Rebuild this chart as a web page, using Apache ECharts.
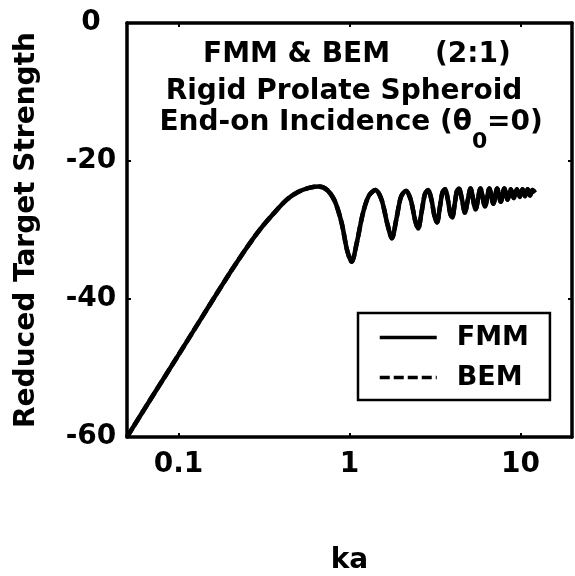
<!DOCTYPE html>
<html>
<head>
<meta charset="utf-8">
<script src="https://cdn.jsdelivr.net/npm/echarts@6/dist/echarts.min.js"></script>
<style>
  html, body { margin: 0; padding: 0; background: #ffffff; }
  #chart { width: 575px; height: 576px; }
</style>
</head>
<body>
<div id="chart"></div>
<script>
// Reduced target strength of a 2:1 rigid prolate spheroid, end-on incidence
const ka = [0.05, 0.07, 0.1, 0.14, 0.2, 0.25, 0.3, 0.36, 0.43, 0.5, 0.58, 0.66, 0.74, 0.82, 0.9, 0.97,
  1.03, 1.1, 1.2, 1.3, 1.42, 1.54, 1.66, 1.77, 1.88, 2.0, 2.14, 2.28, 2.42, 2.52, 2.64, 2.76, 2.88,
  3.02, 3.14, 3.25, 3.38, 3.5, 3.62, 3.76, 3.88, 3.99, 4.12, 4.24, 4.36, 4.55, 4.73, 4.92, 5.1,
  5.46, 5.83, 6.2, 6.57, 6.94, 7.3, 7.67, 8.04, 8.41, 8.78, 9.15, 9.52, 9.89, 10.26, 10.63, 11.0,
  11.37, 11.74, 12.2];
const tsFMM = [-60.0, -54.2, -48.1, -42.3, -36.2, -32.6, -29.9, -27.6, -25.6, -24.5, -23.9, -23.7, -24.2, -25.8, -29.0, -33.0,
  -34.6, -32.0, -27.5, -25.0, -24.2, -25.6, -29.0, -31.2, -28.4, -25.2, -24.3, -25.6, -28.6, -29.8, -27.4, -24.8, -24.2,
  -25.7, -28.0, -28.9, -26.6, -24.5, -24.1, -25.6, -27.6, -28.2, -26.3, -24.4, -24.0, -25.6, -27.5, -25.6, -24.0,
  -27.0, -24.0, -26.6, -24.0, -26.2, -24.0, -25.9, -24.0, -25.6, -24.1, -25.4, -24.1, -25.2, -24.1, -25.1, -24.1,
  -25.0, -24.2, -24.6];
const tsBEM = [-60.0, -54.2, -48.1, -42.3, -36.2, -32.6, -29.9, -27.6, -25.6, -24.5, -23.9, -23.7, -24.2, -25.8, -29.0, -33.0,
  -34.6, -32.0, -27.5, -25.0, -24.2, -25.6, -29.0, -31.2, -28.4, -25.2, -24.3, -25.6, -28.6, -29.8, -27.4, -24.8, -24.2,
  -25.7, -28.0, -28.9, -26.6, -24.5, -24.1, -25.6, -27.6, -28.2, -26.3, -24.4, -24.0, -25.6, -27.5, -25.6, -24.0,
  -27.0, -24.0, -26.6, -24.0, -26.2, -24.0, -25.9, -24.0, -25.6, -24.1, -25.4, -24.1, -25.2, -24.1, -25.1, -24.1,
  -25.0, -24.2, -24.6];
const xTickLabels = [0.1, 1, 10];
const yTickLabels = [-60, -40, -20, 0];

const FONT = '"DejaVu Sans", sans-serif';
const chart = echarts.init(document.getElementById('chart'), null, { renderer: 'canvas' });

const frameLine = { show: true, onZero: false, lineStyle: { color: '#000', width: 3.5 } };
const innerTick = { show: true, inside: true, length: 4, lineStyle: { color: '#000', width: 2 } };

function xLabel(v) {
  const hit = xTickLabels.find(t => Math.abs(Math.log10(v) - Math.log10(t)) < 1e-6);
  return hit === undefined ? '' : String(hit);
}
function yLabel(v) {
  return yTickLabels.indexOf(v) >= 0 ? String(v) : '';
}

const option = {
  backgroundColor: '#ffffff',
  animation: false,
  grid: { left: 127, right: 3, top: 23, bottom: 139, containLabel: false, outerBoundsMode: 'none' },
  xAxis: [
    {
      type: 'log', logBase: 10, min: 0.05, max: 20, splitNumber: 3, position: 'bottom',
      name: 'ka', nameLocation: 'middle', nameGap: 110,
      nameTextStyle: { fontFamily: FONT, fontWeight: 'bold', fontSize: 28, color: '#000' },
      axisLine: frameLine, axisTick: innerTick, splitLine: { show: false }, minorTick: { show: false },
      axisLabel: { show: true, showMinLabel: false, showMaxLabel: false, margin: 14,
        fontFamily: FONT, fontWeight: 'bold', fontSize: 28, color: '#000', formatter: xLabel }
    },
    {
      type: 'log', logBase: 10, min: 0.05, max: 20, splitNumber: 3, position: 'top',
      axisLine: frameLine, axisTick: innerTick, splitLine: { show: false },
      axisLabel: { show: false }
    }
  ],
  yAxis: [
    {
      type: 'value', min: -60, max: 0, interval: 20, position: 'left',
      name: 'Reduced Target Strength', nameLocation: 'middle', nameGap: 86,
      nameTextStyle: { fontFamily: FONT, fontWeight: 'bold', fontSize: 28, color: '#000' },
      axisLine: frameLine, axisTick: innerTick, splitLine: { show: false },
      axisLabel: { margin: 36, align: 'center', fontFamily: FONT, fontWeight: 'bold', fontSize: 28,
        color: '#000', formatter: yLabel }
    },
    {
      type: 'value', min: -60, max: 0, interval: 20, position: 'right',
      axisLine: frameLine, axisTick: innerTick, splitLine: { show: false },
      axisLabel: { show: false }
    }
  ],
  legend: {
    data: ['FMM', 'BEM'],
    orient: 'vertical', left: 358, top: 313,
    padding: [11, 21, 9, 20],
    itemWidth: 57, itemHeight: 28, itemGap: 13,
    borderColor: '#000', borderWidth: 2.5, backgroundColor: '#fff',
    lineStyle: { width: 3.5 },
    itemStyle: { opacity: 0 },
    textStyle: { fontFamily: FONT, fontWeight: 'bold', fontSize: 27, color: '#000', padding: [0, 0, 0, 15] }
  },
  graphic: [
    { type: 'text', x: 203, y: 55, style: { text: 'FMM & BEM', fill: '#000',
      font: 'bold 28px ' + FONT, align: 'left', verticalAlign: 'middle' } },
    { type: 'text', x: 435, y: 55, style: { text: '(2:1)', fill: '#000',
      font: 'bold 28px ' + FONT, align: 'left', verticalAlign: 'middle' } },
    { type: 'text', x: 344, y: 92, style: { text: 'Rigid Prolate Spheroid', fill: '#000',
      font: 'bold 28px ' + FONT, align: 'center', verticalAlign: 'middle' } },
    { type: 'text', x: 472, y: 123, style: { text: 'End-on Incidence (θ', fill: '#000',
      font: 'bold 28px ' + FONT, align: 'right', verticalAlign: 'middle' } },
    { type: 'text', x: 472, y: 142, style: { text: '0', fill: '#000',
      font: 'bold 22px ' + FONT, align: 'left', verticalAlign: 'middle' } },
    { type: 'text', x: 487, y: 123, style: { text: '=0)', fill: '#000',
      font: 'bold 28px ' + FONT, align: 'left', verticalAlign: 'middle' } }
  ],
  series: [
    {
      name: 'FMM', type: 'line', xAxisIndex: 0, yAxisIndex: 0,
      data: ka.map((k, i) => [k, tsFMM[i]]),
      symbol: 'none', smooth: 0.3,
      lineStyle: { color: '#000', width: 4.5, type: 'solid' },
      itemStyle: { color: '#000' }, z: 2
    },
    {
      name: 'BEM', type: 'line', xAxisIndex: 0, yAxisIndex: 0,
      data: ka.map((k, i) => [k, tsBEM[i]]),
      symbol: 'none', smooth: 0.3,
      lineStyle: { color: '#000', width: 4.5, type: [10, 4] },
      itemStyle: { color: '#000' }, z: 3
    }
  ]
};

chart.setOption(option);
</script>
</body>
</html>
